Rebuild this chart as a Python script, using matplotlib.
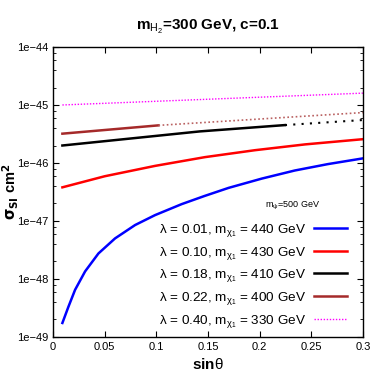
import numpy as np
import matplotlib
matplotlib.use("Agg")
import matplotlib.pyplot as plt
from matplotlib.ticker import FixedLocator, FuncFormatter, LogLocator, NullFormatter

plt.rcParams['font.family'] = ['Liberation Sans', 'DejaVu Sans']
plt.rcParams['mathtext.fontset'] = 'custom'
plt.rcParams['mathtext.rm'] = 'Liberation Sans'
plt.rcParams['mathtext.it'] = 'Liberation Sans'

# sin(theta) samples and sigma_SI values
x_blue = [0.009, 0.0148, 0.0213, 0.031, 0.0439, 0.060, 0.0794, 0.0987, 0.1245, 0.1465,
          0.170, 0.202, 0.234, 0.266, 0.3]
y_blue = [1.74e-49, 3.3e-49, 6.5e-49, 1.35e-48, 2.75e-48, 5.0e-48, 8.5e-48, 1.26e-47, 1.95e-47, 2.69e-47,
          3.72e-47, 5.37e-47, 7.41e-47, 9.55e-47, 1.2e-46]

x_red = [0.009, 0.050, 0.0987, 0.147, 0.1955, 0.244, 0.3]
y_red = [3.8e-47, 5.9e-47, 8.9e-47, 1.26e-46, 1.66e-46, 2.09e-46, 2.57e-46]

x_black = [0.009, 0.142, 0.2245]
y_black = [2.0e-46, 3.5e-46, 4.5e-46]
x_black_dot = [0.2245, 0.3]
y_black_dot = [4.5e-46, 5.5e-46]

x_brown = [0.009, 0.102]
y_brown = [3.2e-46, 4.45e-46]
x_brown_dot = [0.102, 0.3]
y_brown_dot = [4.45e-46, 7.4e-46]

x_pink = [0.009, 0.3]
y_pink = [1.0e-45, 1.6e-45]

labels = [
    r"$\lambda$ = 0.01, m$_{\chi_1}$ = 440 GeV",
    r"$\lambda$ = 0.10, m$_{\chi_1}$ = 430 GeV",
    r"$\lambda$ = 0.18, m$_{\chi_1}$ = 410 GeV",
    r"$\lambda$ = 0.22, m$_{\chi_1}$ = 400 GeV",
    r"$\lambda$ = 0.40, m$_{\chi_1}$ = 330 GeV",
]

fig = plt.figure(figsize=(3.82, 3.82), dpi=100)
ax = fig.add_axes([0.139, 0.118, 0.811, 0.759])

ax.plot(x_blue, y_blue, color="blue", lw=1.8, label=labels[0])
ax.plot(x_red, y_red, color="red", lw=1.8, label=labels[1])
ax.plot(x_black, y_black, color="black", lw=1.8, label=labels[2])
ax.plot(x_black_dot, y_black_dot, color="black", lw=1.5, ls=(0, (1, 3)))
ax.plot(x_brown, y_brown, color="#a52a2a", lw=1.8, label=labels[3])
ax.plot(x_brown_dot, y_brown_dot, color="#b96060", lw=1.2, ls=(0, (1, 1.5)))
ax.plot(x_pink, y_pink, color="magenta", lw=1.0, ls=(0, (1, 1.2)), label=labels[4])

ax.set_yscale("log")
ax.set_xlim(0, 0.3)
ax.set_ylim(1e-49, 1e-44)
ax.xaxis.set_major_locator(FixedLocator([0, 0.05, 0.1, 0.15, 0.2, 0.25, 0.3]))
ax.xaxis.set_major_formatter(FuncFormatter(lambda v, p: "0" if v == 0 else f"{v:g}"))
ax.yaxis.set_major_locator(FixedLocator([1e-49, 1e-48, 1e-47, 1e-46, 1e-45, 1e-44]))
ax.yaxis.set_major_formatter(FuncFormatter(lambda v, p: f"1e{int(round(np.log10(v)))}".replace("-", "\u2212")))
ax.yaxis.set_minor_locator(LogLocator(base=10, subs=(2, 4, 6, 8)))
ax.yaxis.set_minor_formatter(NullFormatter())
ax.tick_params(which="both", direction="in", top=True, right=True, labelsize=8)
ax.tick_params(which="major", length=4)
ax.tick_params(which="minor", length=2)
for s in ax.spines.values():
    s.set_linewidth(1.0)

ax.set_xlabel(r"sin$\theta$", fontsize=11, fontweight="bold", labelpad=4)
ax.set_ylabel(r"$\mathbf{\sigma_{SI}}$ cm$^{\mathbf{2}}$", fontsize=10.5, fontweight="bold")
ax.yaxis.set_label_coords(-0.105, 0.5)
ax.set_title(r"m$_{H_2}$=300 GeV, c=0.1", fontsize=11, fontweight="bold", pad=12)

ax.text(0.232, 1.45e-47, r"m$_{\psi}$=500 GeV", fontsize=6.5, ha="center", va="bottom")
ax.legend(loc="upper right", bbox_to_anchor=(0.965, 0.415), frameon=False, fontsize=9.7,
          markerfirst=False, handlelength=2.4, handletextpad=0.6, labelspacing=0.42, borderaxespad=0)

fig.savefig("out.png", dpi=100)
